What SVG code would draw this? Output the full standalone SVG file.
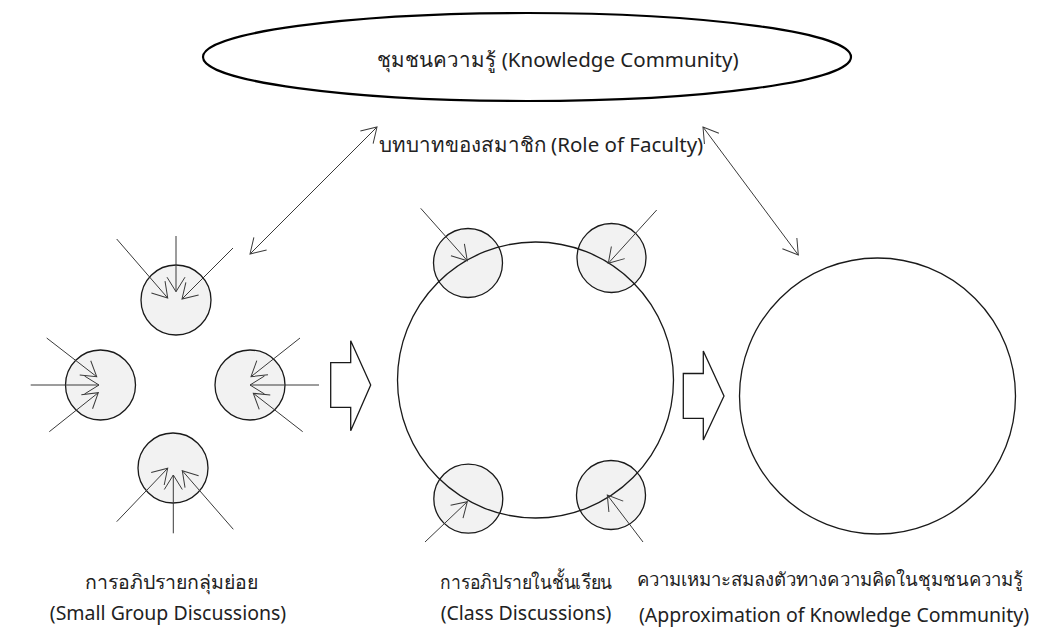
<svg xmlns="http://www.w3.org/2000/svg" width="1046" height="634" viewBox="0 0 1046 634">
  <style>
    .txt { font-family: "Noto Sans", "DejaVu Sans", "Liberation Sans", sans-serif; font-size: 20.5px; fill: #222222; text-anchor: middle; }
    .cap { font-family: "Noto Sans", "DejaVu Sans", "Liberation Sans", sans-serif; font-size: 19.5px; fill: #222222; text-anchor: middle; }
    .long { font-size: 18.5px; }
    .small { fill: #f2f2f2; stroke: #1a1a1a; stroke-width: 1.3; }
    .big { fill: none; stroke: #1a1a1a; stroke-width: 1.3; }
    .ln { stroke: #3a3a3a; stroke-width: 1; fill: none; marker-end: url(#head); }
    .bi { stroke: #3a3a3a; stroke-width: 1; fill: none; marker-start: url(#head); marker-end: url(#head); }
    .block { fill: #ffffff; stroke: #1a1a1a; stroke-width: 1.3; stroke-linejoin: miter; }
  </style>
  <defs>
    <marker id="head" markerUnits="userSpaceOnUse" viewBox="-16 -10 18 20" refX="0" refY="0" markerWidth="18" markerHeight="20" orient="auto-start-reverse" overflow="visible">
      <path d="M-14.5,-9 L0,0 L-14.5,9" fill="none" stroke="#3a3a3a" stroke-width="1"/>
    </marker>
  </defs>
  <rect width="1046" height="634" fill="#ffffff"/>

  <!-- knowledge community -->
  <g id="community">
    <ellipse cx="527" cy="57" rx="324" ry="44" fill="none" stroke="#000" stroke-width="2.2"/>
    <text class="txt" x="558" y="67">ชุมชนความรู้ (Knowledge Community)</text>
  </g>

  <g id="role">
    <text class="txt" x="541" y="152">บทบาทของสมาชิก (Role of Faculty)</text>
  </g>

  <!-- small group discussions -->
  <g id="small-groups">
    <circle class="small" cx="176" cy="300" r="35"/>
    <circle class="small" cx="100.5" cy="385" r="35"/>
    <circle class="small" cx="250" cy="385" r="35"/>
    <circle class="small" cx="173" cy="468" r="35"/>
    <text class="cap" x="171" y="589">การอภิปรายกลุ่มย่อย</text>
    <text class="cap" x="168" y="620">(Small Group Discussions)</text>
  </g>

  <!-- class discussions -->
  <g id="class">
    <circle class="small" cx="468" cy="263" r="34.5"/>
    <circle class="small" cx="611.5" cy="258" r="34.5"/>
    <circle class="small" cx="468.3" cy="498.7" r="34.5"/>
    <circle class="small" cx="611" cy="495" r="34.5"/>
    <circle class="big" cx="535.5" cy="380" r="138"/>
    <text class="cap" x="526" y="589" textLength="172" lengthAdjust="spacingAndGlyphs">การอภิปรายในชั้นเรียน</text>
    <text class="cap" x="526" y="620">(Class Discussions)</text>
  </g>

  <!-- approximation of knowledge community -->
  <g id="approximation">
    <circle class="big" cx="877.5" cy="396" r="138"/>
    <text class="cap long" x="830" y="586" textLength="386" lengthAdjust="spacingAndGlyphs">ความเหมาะสมลงตัวทางความคิดในชุมชนความรู้</text>
    <text class="cap" x="834" y="622" textLength="390" lengthAdjust="spacingAndGlyphs">(Approximation of Knowledge Community)</text>
  </g>

  <!-- transition arrows -->
  <g id="step-1">
    <polygon class="block" points="330.7,362.7 350.7,362.7 350.7,340.7 370.7,385 350.7,430.7 350.7,407.3 330.7,407.3"/>
  </g>
  <g id="step-2">
    <polygon class="block" points="683.3,373.5 703.3,373.5 703.3,351 724,396 703.3,440 703.3,418.3 683.3,418.3"/>
  </g>

  <g id="connectors">
    <!-- role links -->
    <line class="bi" x1="250" y1="254" x2="377" y2="127"/>
    <line class="bi" x1="703" y1="127" x2="798.3" y2="255"/>
    <!-- top group -->
    <line class="ln" x1="116.7" y1="239" x2="167.7" y2="298"/>
    <line class="ln" x1="176" y1="236" x2="176" y2="291.7"/>
    <line class="ln" x1="233" y1="248" x2="182" y2="299"/>
    <!-- left group -->
    <line class="ln" x1="46.7" y1="338" x2="96.7" y2="376.7"/>
    <line class="ln" x1="30.7" y1="385" x2="99" y2="385"/>
    <line class="ln" x1="49.3" y1="431.7" x2="98.3" y2="392.7"/>
    <!-- right group -->
    <line class="ln" x1="300" y1="338" x2="251" y2="376.7"/>
    <line class="ln" x1="319" y1="385" x2="250" y2="385"/>
    <line class="ln" x1="302.7" y1="431.7" x2="253.3" y2="393.3"/>
    <!-- bottom group -->
    <line class="ln" x1="116.7" y1="521.7" x2="167.7" y2="468.3"/>
    <line class="ln" x1="173.3" y1="533.3" x2="173.3" y2="475"/>
    <line class="ln" x1="233.3" y1="529.3" x2="182.3" y2="470.7"/>
    <!-- class groups -->
    <line class="ln" x1="420.7" y1="208.3" x2="467.3" y2="260.7"/>
    <line class="ln" x1="656.7" y1="210" x2="608.3" y2="263.3"/>
    <line class="ln" x1="425" y1="542" x2="467.3" y2="501.7"/>
    <line class="ln" x1="643" y1="542" x2="607.3" y2="495"/>
  </g>
</svg>
